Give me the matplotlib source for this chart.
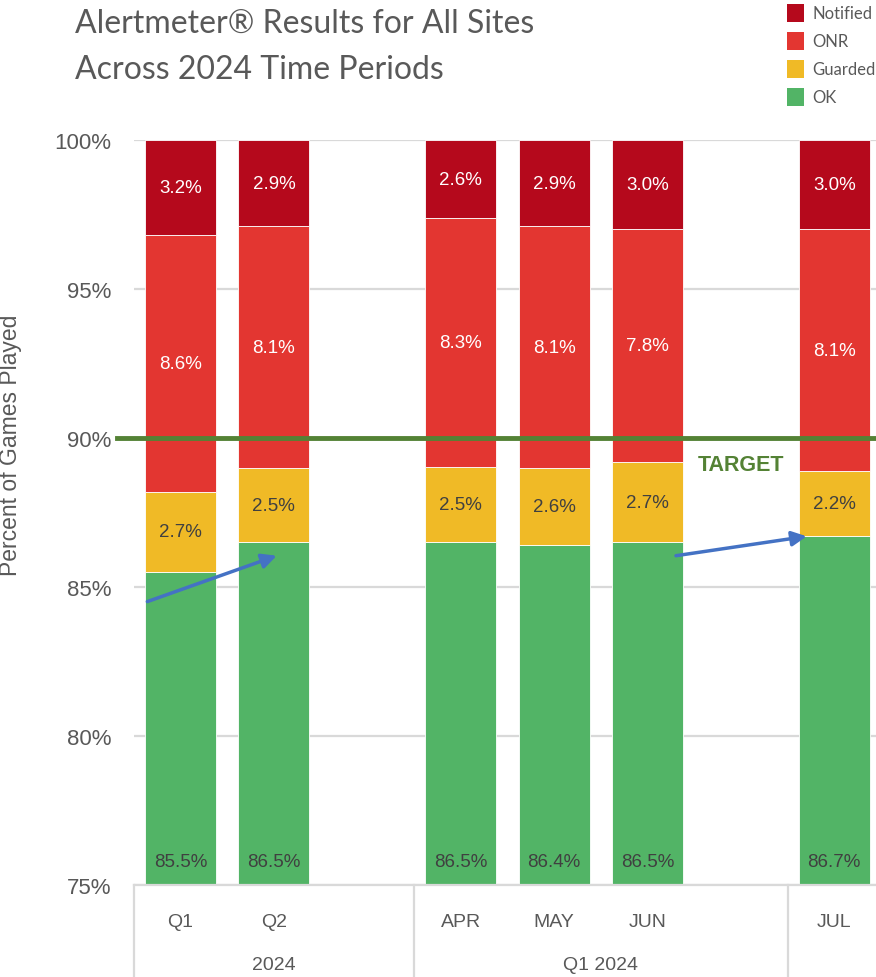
import matplotlib
matplotlib.use("Agg")
import matplotlib.pyplot as plt
import numpy as np
from matplotlib.patches import Rectangle

# ---------------- data ----------------
categories = ["Q1", "Q2", "APR", "MAY", "JUN", "JUL"]
slots = [0, 1, 3, 4, 5, 7]          # category slots (gaps between groups)
groups = ["2024", "Q1 2024", ""]
group_spans = [(0, 2), (3, 6), (7, 7)]

series_names = ["OK", "Guarded", "ONR", "Notified"]
ok = [85.5, 86.5, 86.5, 86.4, 86.5, 86.7]
guarded = [2.7, 2.5, 2.54, 2.6, 2.7, 2.2]
onr = [8.6, 8.1, 8.33, 8.1, 7.8, 8.1]
notified = [3.2, 2.9, 2.63, 2.9, 3.0, 3.0]
series = [ok, guarded, onr, notified]
colors = ["#52B466", "#F0BA26", "#E33631", "#B5091C"]
label_colors = ["#404040", "#404040", "white", "white"]

target = 90
yticks = [75, 80, 85, 90, 95, 100]

# ---------------- figure ----------------
fig = plt.figure(figsize=(8.76, 9.78), dpi=100)
W, H = 876, 978
ax_left, ax_right, ax_top, ax_bot = 133.8, 881.0, 141, 886
ax = fig.add_axes([ax_left / W, 1 - ax_bot / H, (ax_right - ax_left) / W, (ax_bot - ax_top) / H])

font = "Liberation Sans"
gray = "#595959"

x = np.array(slots, dtype=float)
bottom = np.zeros(len(categories))
for vals, c, lc, name in zip(series, colors, label_colors, series_names):
    v = np.array(vals)
    ax.bar(x, v, 0.76, bottom=bottom, color=c, edgecolor="white", linewidth=0.6, zorder=2)
    for xi, b, vi in zip(x, bottom, v):
        if name == "OK":
            yl = 75.8
        else:
            yl = b + vi / 2
        ax.text(xi, yl, f"{vi:.1f}%", ha="center", va="center", color=lc,
                fontsize=13.5, family=font, zorder=4)
    bottom = bottom + v

ax.set_xlim(-0.5, 7.5)
ax.set_ylim(75, 100)
ax.set_yticks(yticks)
ax.set_yticklabels([f"{t}%" for t in yticks], fontsize=16, color=gray, family=font)
ax.tick_params(axis="y", length=0, pad=16)
ax.set_xticks(x)
ax.set_xticklabels(categories, fontsize=14, color=gray, family=font)
ax.tick_params(axis="x", length=0, pad=20)
for t in yticks:
    ax.axhline(t, color="#D9D9D9", lw=1.6, zorder=1)

for s in ["top", "right", "left"]:
    ax.spines[s].set_visible(False)
ax.spines["bottom"].set_color("#D9D9D9")
ax.spines["bottom"].set_linewidth(1.6)

# group separators and labels
trans = matplotlib.transforms.blended_transform_factory(ax.transData, ax.transAxes)
for (a, b), g in zip(group_spans, groups):
    edge = a - 0.5
    ax.plot([edge, edge], [0, -0.2], transform=trans, color="#D9D9D9", lw=1.6, clip_on=False)
    if g:
        ax.annotate(g, xy=((a + b) / 2, 0), xycoords=trans, xytext=(0, -57), textcoords="offset points",
                    ha="center", va="center", fontsize=14, color=gray, family=font, annotation_clip=False)

ax.set_ylabel("Percent of Games Played", fontsize=16.5, color=gray, family=font)
ax.yaxis.set_label_coords(-0.1496, 0.592)

# target line
ax.axhline(target, xmin=-0.0225, xmax=1.0, color="#548235", lw=3.5, zorder=3, clip_on=False)
ax.text(6, target - 0.9, "TARGET", ha="center", va="center", color="#548235",
        fontsize=15.5, fontweight="bold", family=font, zorder=4)

# arrows
arrow_kw = dict(arrowstyle="-|>", color="#4472C4", lw=2.5, mutation_scale=22, shrinkA=0, shrinkB=0)
ax.annotate("", xy=(slots[1] + 0.03, ok[1] - 0.45), xytext=(slots[0] - 0.355, ok[0] - 0.99),
            arrowprops=arrow_kw, zorder=5)
ax.annotate("", xy=(slots[5] - 0.295, ok[5]), xytext=(slots[4] + 0.305, ok[4] - 0.45),
            arrowprops=arrow_kw, zorder=5)

# title
fig.text(75 / W, 1 - 24 / H, "Alertmeter® Results for All Sites", fontsize=23, color=gray,
         family="Lato", va="center", ha="left")
fig.text(75 / W, 1 - 70 / H, "Across 2024 Time Periods", fontsize=23, color=gray,
         family="Lato", va="center", ha="left")

# legend (manual, cropped at right edge like the reference)
leg_names = ["Notified", "ONR", "Guarded", "OK"]
leg_colors = [colors[3], colors[2], colors[1], colors[0]]
for i, (n, c) in enumerate(zip(leg_names, leg_colors)):
    yc = 14 + 28 * i
    fig.add_artist(Rectangle((787 / W, 1 - (yc + 9) / H), 17 / W, 18 / H, transform=fig.transFigure,
                             facecolor=c, edgecolor="none"))
    fig.text(812 / W, 1 - yc / H, n, fontsize=12, color=gray, family="Lato", va="center", ha="left")

fig.savefig("out.png", dpi=100)
